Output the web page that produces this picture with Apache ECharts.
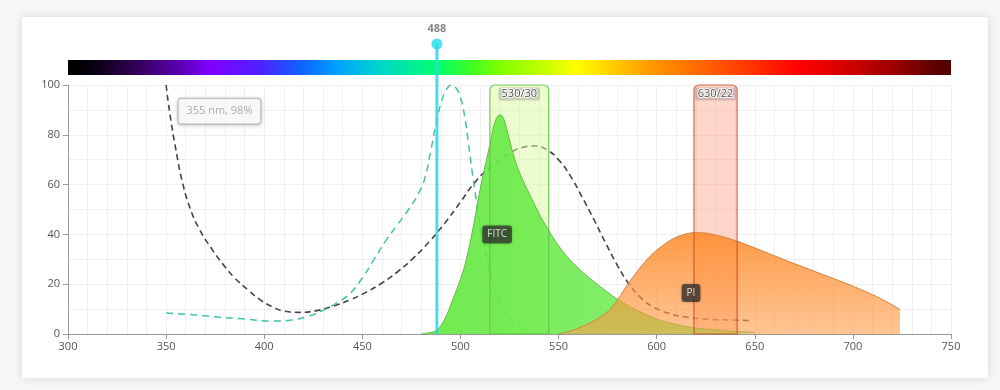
<!DOCTYPE html>
<html>
<head>
<meta charset="utf-8">
<script src="https://cdn.jsdelivr.net/npm/echarts@6/dist/echarts.min.js"></script>
<style>
  html, body { margin: 0; padding: 0; background: #f6f6f6; }
  #card { position: absolute; left: 22px; top: 17px; width: 966px; height: 361px; background: #fff;
          box-shadow: 0 0 8px rgba(0,0,0,0.13); border-radius: 2px; }
  #chart { position: absolute; left: 0; top: 0; width: 1000px; height: 390px; }
</style>
</head>
<body>
<div id="card"></div>
<div id="chart"></div>
<script>
// ---------- data ----------
const xRange = [300, 750];
const yRange = [0, 100];
const xTickStep = 50;
const yTickStep = 20;

// black dashed spectrum (nm, %)
const darkDashed = [[350,100],[352,88],[355,74],[358,62],[362,51],[367,42],[373,34.5],[379,28],[385,22.5],[392,17.5],
  [398,13.7],[404,11],[410,9.2],[418,8.7],[426,9.3],[434,10.9],[444,13.8],[452,16.8],[460,20.5],[468,25],[476,30.5],
  [484,37],[492,44.5],[500,53],[508,61.5],[516,67.5],[524,72],[532,75],[538,75.5],[544,74],[550,70],[556,63.5],
  [562,55],[568,46],[574,36.5],[580,27.5],[586,20],[592,14.5],[598,11],[606,8.3],[615,6.8],[625,6],[637,5.6],[648,5.4]];

// FITC excitation (teal dashed)
const fitcExcitation = [[350,8.4],[362,7.8],[376,6.8],[390,6],[404,5.2],[414,5.6],[422,7],[430,9.5],[437,12.5],
  [444,16.5],[450,22.5],[456,30],[462,37.5],[468,44],[474,50.5],[479,57],[482,63],[485,74],[488,86],[491,95],
  [493.5,99],[495.5,100],[498,98.5],[500,95],[502,88],[504,77],[506,65],[508,54],[510,44],[513,32],[516,22],
  [520,12.5],[525,6],[530,2.5],[536,0.5]];

// FITC emission (green area)
const fitcEmission = [[480,0],[484,0.5],[488,1.6],[492,6],[496,13.7],[500,22],[503,30],[507,45],[510,58],[513,69],
  [515,76],[517,83.5],[519,87.5],[520.5,88],[522,86.5],[524,81],[527,72],[530,65],[535,56.5],[540,48.5],[545,41.5],
  [550,35.5],[555,30.5],[560,26.5],[565,23],[570,19.8],[575,16.8],[580,14],[590,9.5],[600,6],[610,3.8],[620,2.4],
  [630,1.6],[640,1],[650,0.6]];

// PI emission (orange area)
const piEmission = [[550,0],[556,1.2],[562,3],[568,5.2],[574,8.3],[579,12.5],[584,18.5],[589,24],[593,28],[597,31.5],
  [603,35.5],[609,38.5],[615,40.2],[620,40.7],[625,40.5],[630,39.8],[636,38.5],[642,37],[648,35.2],[655,33],
  [662,30.8],[670,28.3],[680,25.3],[690,22.3],[700,19.2],[710,15.8],[718,12.6],[724,9.8]];

// filters: [center, width, label]
const filters = [[530, 30, '530/30'], [630, 22, '630/22']];

// laser line
const laser = [488];

// dye labels: [nm, %, name]
const dyeLabels = [[518.7, 40, 'FITC'], [617.5, 16.5, 'PI']];

// annotation box: [nm, %, text]
const annotation = [[377.2, 89.5, '355 nm, 98%']];

// spectrum colour stops: [nm, colour]
const spectrumStops = [[300,'#000000'],[310,'#050008'],[333,'#300050'],[360,'#6000c0'],[372,'#8000ff'],[398,'#5020ff'],
  [418,'#1060ff'],[437,'#00a0ff'],[460,'#00d8c8'],[488,'#00ff70'],[506,'#40ff20'],[520,'#80ff00'],[541,'#c0ff00'],
  [559,'#ffff00'],[597,'#ff9900'],[640,'#ff4400'],[673,'#ff0000'],[690,'#e00000'],[720,'#a00000'],[741,'#600000'],[750,'#500000']];

// ---------- chart ----------
const chart = echarts.init(document.getElementById('chart'));
const FONT = 'Open Sans';
const gridL = 68, gridR = 49;

const filterStyles = {
  '530/30': { fill: 'rgba(215,250,160,0.5)', stroke: 'rgba(100,190,70,0.85)' },
  '630/22': { fill: 'rgba(255,165,135,0.45)', stroke: 'rgba(195,65,35,0.75)' }
};

function filterRect(params, api) {
  const c = api.value(0), w = api.value(1);
  const p0 = api.coord([c - w / 2, yRange[1]]);
  const p1 = api.coord([c + w / 2, yRange[0]]);
  return { p0: p0, p1: p1, label: filters[params.dataIndex][2] };
}

chart.setOption({
  animation: false,
  textStyle: { fontFamily: FONT },
  grid: [
    { left: gridL, right: gridR, top: 85, bottom: 56 },
    { left: gridL, right: gridR, top: 60, height: 15 },
    { left: gridL, right: gridR, top: 44, bottom: 56 }
  ],
  xAxis: [
    { type: 'value', gridIndex: 0, min: xRange[0], max: xRange[1], interval: xTickStep,
      axisLine: { show: true, lineStyle: { color: '#999' } },
      axisTick: { show: true, length: 5, lineStyle: { color: '#999' } },
      axisLabel: { color: '#555', fontSize: 11, margin: 7, fontFamily: FONT },
      splitLine: { show: true, lineStyle: { color: '#efefef' } },
      minorTick: { show: false, splitNumber: 5 },
      minorSplitLine: { show: true, lineStyle: { color: '#efefef' } } },
    { type: 'value', gridIndex: 1, min: xRange[0], max: xRange[1], show: false },
    { type: 'value', gridIndex: 2, min: xRange[0], max: xRange[1], show: false }
  ],
  yAxis: [
    { type: 'value', gridIndex: 0, min: yRange[0], max: yRange[1], interval: yTickStep,
      axisLine: { show: true, lineStyle: { color: '#999' } },
      axisTick: { show: true, length: 5, lineStyle: { color: '#999' } },
      axisLabel: { color: '#555', fontSize: 11, margin: 8, fontFamily: FONT },
      splitLine: { show: true, lineStyle: { color: '#efefef' } },
      minorTick: { show: false, splitNumber: 2 },
      minorSplitLine: { show: true, lineStyle: { color: '#efefef' } } },
    { type: 'value', gridIndex: 1, min: 0, max: 1, show: false },
    { type: 'value', gridIndex: 2, min: 0, max: 1, show: false }
  ],
  series: [
    { type: 'line', name: 'dark', data: darkDashed, smooth: 0.5, showSymbol: false, z: 1,
      lineStyle: { color: '#444', width: 1.6, type: [6, 4] } },
    { type: 'line', name: 'FITC ex', data: fitcExcitation, smooth: 0.5, showSymbol: false, z: 1,
      lineStyle: { color: '#45c2a2', width: 1.5, type: [7, 5] } },
    { type: 'custom', name: 'filterFill', data: filters, z: 2,
      renderItem: function (params, api) {
        const r = filterRect(params, api);
        return { type: 'rect', shape: { x: r.p0[0], y: r.p0[1], width: r.p1[0] - r.p0[0], height: r.p1[1] - r.p0[1], r: [5, 5, 0, 0] },
          style: { fill: filterStyles[r.label].fill } };
      } },
    { type: 'line', name: 'FITC em', data: fitcEmission, smooth: 0.4, showSymbol: false, z: 3,
      lineStyle: { color: '#66bb44', width: 1 },
      areaStyle: { opacity: 1, color: new echarts.graphic.LinearGradient(0, 0, 1, 0, [
        { offset: 0, color: 'rgba(88,232,48,0.86)' }, { offset: 1, color: 'rgba(125,236,105,0.86)' }]) } },
    { type: 'line', name: 'PI em', data: piEmission, smooth: 0.4, showSymbol: false, z: 4,
      lineStyle: { color: '#d08040', width: 1 },
      areaStyle: { opacity: 1, color: new echarts.graphic.LinearGradient(0, 0, 0, 1, [
        { offset: 0, color: 'rgba(255,135,35,0.85)' }, { offset: 1, color: 'rgba(255,155,70,0.58)' }]) } },
    { type: 'custom', name: 'filterBorder', data: filters, z: 5,
      renderItem: function (params, api) {
        const r = filterRect(params, api);
        const st = filterStyles[r.label];
        return {
          type: 'group',
          children: [
            { type: 'rect', shape: { x: r.p0[0], y: r.p0[1], width: r.p1[0] - r.p0[0], height: r.p1[1] - r.p0[1], r: [5, 5, 0, 0] },
              style: { fill: 'none', stroke: st.stroke, lineWidth: 1.2 } },
            { type: 'text', x: (r.p0[0] + r.p1[0]) / 2, y: r.p0[1] + 9,
              style: { text: r.label, fill: '#555', font: '11px "Open Sans"', align: 'center', verticalAlign: 'middle',
                stroke: 'rgba(255,255,255,0.9)', lineWidth: 2,
                backgroundColor: 'rgba(110,110,110,0.3)', padding: [1, 3], borderRadius: 3 } }
          ]
        };
      } },
    { type: 'custom', name: 'spectrum', xAxisIndex: 1, yAxisIndex: 1, data: [[0]], z: 1,
      renderItem: function (params, api) {
        const a = api.coord([xRange[0], 1]);
        const b = api.coord([xRange[1], 0]);
        const span = xRange[1] - xRange[0];
        const stops = spectrumStops.map(s => ({ offset: (s[0] - xRange[0]) / span, color: s[1] }));
        return { type: 'rect', shape: { x: a[0], y: a[1], width: b[0] - a[0], height: b[1] - a[1] },
          style: { fill: new echarts.graphic.LinearGradient(0, 0, 1, 0, stops) } };
      } },
    { type: 'line', name: 'laser', xAxisIndex: 2, yAxisIndex: 2, z: 6,
      data: [[laser[0], 0], [laser[0], 1]], showSymbol: false,
      lineStyle: { color: 'rgba(40,215,235,0.85)', width: 3 } },
    { type: 'scatter', name: 'laserDot', xAxisIndex: 2, yAxisIndex: 2, z: 7,
      data: [[laser[0], 1]], symbolSize: 11, itemStyle: { color: '#22dcee' },
      label: { show: true, position: 'top', distance: 4, formatter: String(laser[0]), color: '#666',
        fontSize: 11, fontWeight: 'bold', fontFamily: FONT } },
    { type: 'scatter', name: 'dyes', z: 8, symbolSize: 0,
      data: dyeLabels.map(d => ({ value: [d[0], d[1]], name: d[2] })),
      label: { show: true, position: 'inside', formatter: '{b}', color: '#fff', fontSize: 10, fontFamily: FONT,
        backgroundColor: 'rgba(45,45,45,0.9)', padding: [4, 5], borderRadius: 3,
        shadowBlur: 3, shadowColor: 'rgba(0,0,0,0.3)' } },
    { type: 'scatter', name: 'annotation', z: 8, symbolSize: 0,
      data: annotation.map(d => ({ value: [d[0], d[1]], name: d[2] })),
      label: { show: true, position: 'inside', formatter: '{b}', color: '#999', fontSize: 11, fontFamily: FONT,
        backgroundColor: '#fff', borderColor: '#aaa', borderWidth: 1, padding: [7, 8], borderRadius: 3,
        shadowBlur: 4, shadowColor: 'rgba(0,0,0,0.18)', shadowOffsetY: 1 } }
  ]
});
</script>
</body>
</html>
